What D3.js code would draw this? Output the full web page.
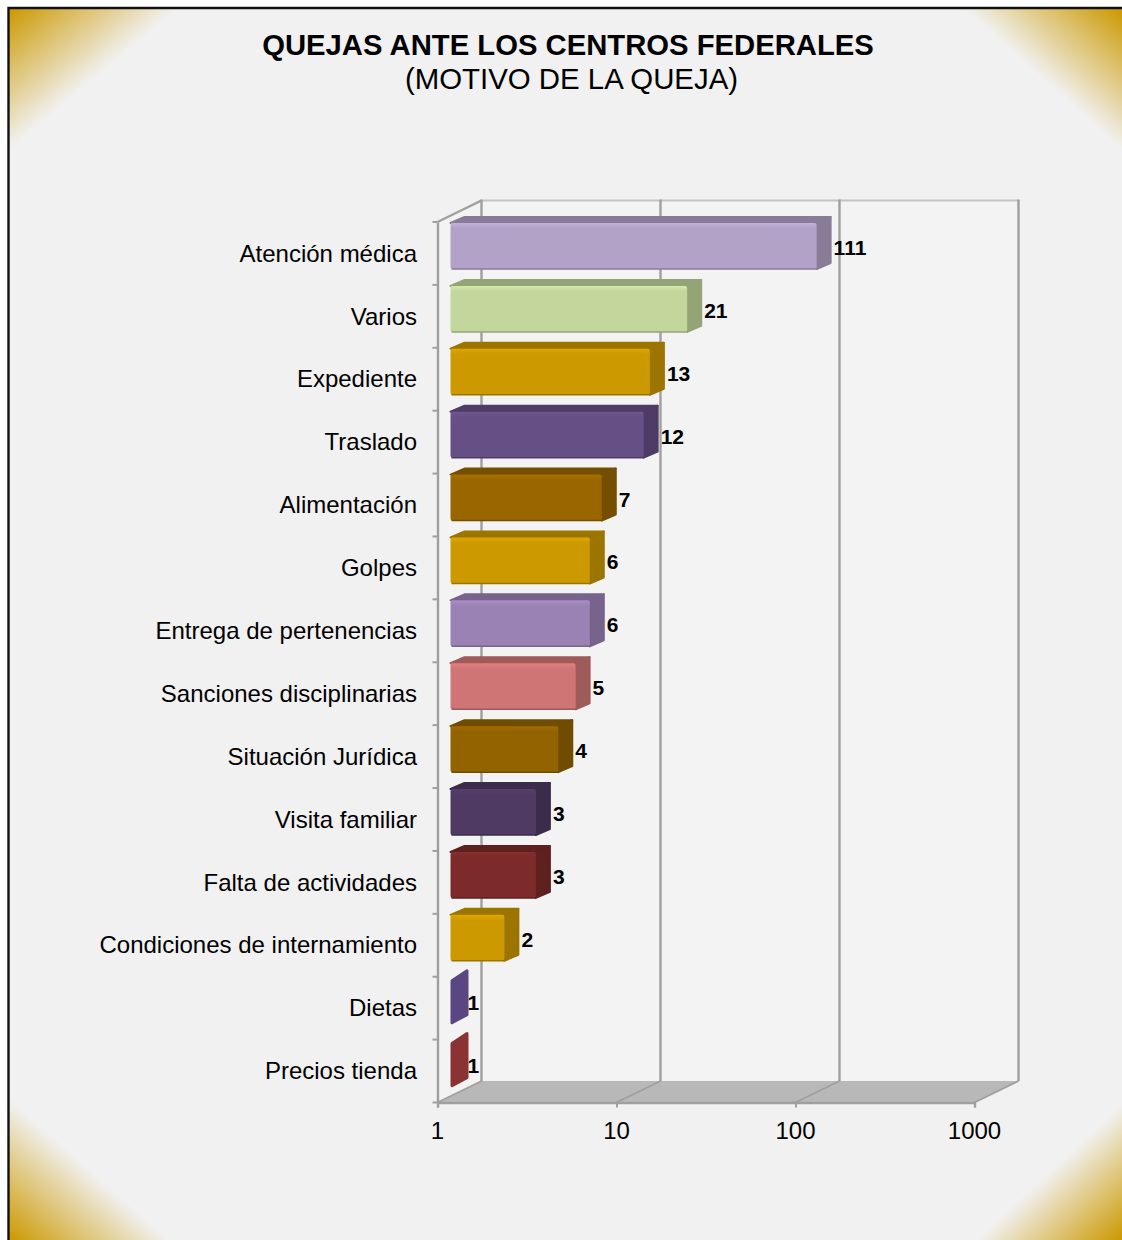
<!DOCTYPE html>
<html>
<head>
<meta charset="utf-8">
<script src="https://cdn.jsdelivr.net/npm/d3@7"></script>
<style>
    html, body { margin: 0; padding: 0; background: #fff; }
    svg { display: block; }
    text { font-family: "Liberation Sans", Arial, sans-serif; fill: #000; }
</style>
</head>
<body>
<div id="chart"></div>
<script>
var categories = ['Atención médica', 'Varios', 'Expediente', 'Traslado', 'Alimentación', 'Golpes',
    'Entrega de pertenencias', 'Sanciones disciplinarias', 'Situación Jurídica', 'Visita familiar',
    'Falta de actividades', 'Condiciones de internamiento', 'Dietas', 'Precios tienda'];
var quejas = [111, 21, 13, 12, 7, 6, 6, 5, 4, 3, 3, 2, 1, 1];
var axisTicks = [1, 10, 100, 1000];

var barColors = ['#b3a2c7', '#c3d69b', '#cc9900', '#664f85', '#996600', '#cc9900', '#9b82b5',
    '#d07575', '#936300', '#4f3a63', '#7c2a2a', '#cc9900', '#5a4680', '#8b3232'];
var gold = '#cc9900', paper = '#f1f1f1', axisGray = '#9f9f9f';

var W = 1122, H = 1240,
    wall = { dx: 44, dy: -21.5 },      // depth of the chart box
    barOffset = { dx: 13, dy: 1 },     // front of the bar inside the box
    barDepth = { dx: 14, dy: -6 },     // plus the round stroke of the polygons
    barHeight = 46;

var x = d3.scaleLog().base(10).domain([1, 1000]).range([437.5, 974.5]),
    y = d3.scaleBand().domain(categories).range([222, 1102.5]);

var svg = d3.select('#chart').append('svg').attr('width', W).attr('height', H),
    defs = svg.append('defs');

function pts(list) { return list.map(function(p) { return p.join(','); }).join(' '); }

// background and gold corners
//
svg.append('rect').attr('x', 9).attr('y', 9).attr('width', W - 9).attr('height', H - 9).attr('fill', paper);

[
    { id: 'c-tl', c: [9, 9], a: [178, 9], b: [9, 150] },
    { id: 'c-tr', c: [W, 9], a: [964, 9], b: [W, 150] },
    { id: 'c-bl', c: [9, H], a: [9, 1098], b: [170, H] },
    { id: 'c-br', c: [W, H], a: [W, 1104], b: [976, H] }
].forEach(function(k) {
    var ex = k.b[0] - k.a[0], ey = k.b[1] - k.a[1],
        t = ((k.c[0] - k.a[0]) * ex + (k.c[1] - k.a[1]) * ey) / (ex * ex + ey * ey),
        fx = k.a[0] + t * ex, fy = k.a[1] + t * ey;
    var g = defs.append('linearGradient').attr('id', k.id).attr('gradientUnits', 'userSpaceOnUse')
        .attr('x1', k.c[0]).attr('y1', k.c[1]).attr('x2', fx).attr('y2', fy);
    g.append('stop').attr('offset', 0).attr('stop-color', gold);
    g.append('stop').attr('offset', 1).attr('stop-color', paper);
    svg.append('polygon').attr('points', pts([k.c, k.a, k.b])).attr('fill', 'url(#' + k.id + ')');
});

svg.append('path').attr('d', 'M8.5,' + H + ' L8.5,8 L' + W + ',8')
    .attr('fill', 'none').attr('stroke', '#111').attr('stroke-width', 2.4);

// title
//
svg.append('text').attr('x', 568).attr('y', 55).attr('text-anchor', 'middle')
    .attr('font-size', 29.25).attr('font-weight', 'bold').text('QUEJAS ANTE LOS CENTROS FEDERALES');
svg.append('text').attr('x', 571.5).attr('y', 89).attr('text-anchor', 'middle')
    .attr('font-size', 29.4).text('(MOTIVO DE LA QUEJA)');

// box: walls and floor
//
var y0 = y.range()[0], y1 = y.range()[1],
    x0 = x.range()[0], x1 = x.range()[1];

svg.append('polygon')
    .attr('points', pts([[x0, y0], [x0 + wall.dx, y0 + wall.dy], [x1 + wall.dx, y0 + wall.dy],
        [x1 + wall.dx, y1 + wall.dy], [x0, y1]]))
    .attr('fill', '#f3f3f3');
svg.append('polygon')
    .attr('points', pts([[x0, y1], [x0 + wall.dx, y1 + wall.dy], [x1 + wall.dx, y1 + wall.dy], [x1, y1]]))
    .attr('fill', '#b8b8b8');

svg.append('line').attr('x1', x0 + wall.dx).attr('x2', x1 + wall.dx)
    .attr('y1', y0 + wall.dy).attr('y2', y0 + wall.dy)
    .attr('stroke', '#c4c4c4').attr('stroke-width', 2);

axisTicks.forEach(function(t) {
    var px = x(t);
    svg.append('line').attr('x1', px + wall.dx).attr('x2', px + wall.dx)
        .attr('y1', y0 + wall.dy - 1).attr('y2', y1 + wall.dy)
        .attr('stroke', axisGray).attr('stroke-width', 2.4);
    svg.append('line').attr('x1', px).attr('x2', px + wall.dx)
        .attr('y1', y1).attr('y2', y1 + wall.dy)
        .attr('stroke', axisGray).attr('stroke-width', 1.8);
});
svg.append('line').attr('x1', x0).attr('x2', x0 + wall.dx)
    .attr('y1', y0).attr('y2', y0 + wall.dy)
    .attr('stroke', axisGray).attr('stroke-width', 2.4);

// axes
//
var xAxis = svg.append('g').attr('transform', 'translate(0,' + y1 + ')')
    .call(d3.axisBottom(x).tickValues(axisTicks).tickSize(5).tickPadding(14).tickFormat(d3.format('d')));
xAxis.selectAll('text').attr('font-size', 24).attr('font-family', '"Liberation Sans", Arial, sans-serif')
    .attr('dx', -0.5);

var yAxis = svg.append('g').attr('transform', 'translate(' + x0 + ',0)')
    .call(d3.axisLeft(y).tickSize(0).tickPadding(20));
yAxis.selectAll('text').attr('font-size', 24).attr('font-family', '"Liberation Sans", Arial, sans-serif')
    .attr('dx', -0.5)
    .attr('transform', 'translate(0,0.5)');

// category separators
yAxis.selectAll('.sep').data(categories.concat(['end'])).enter().append('line')
    .attr('class', 'sep').attr('x1', -5).attr('x2', 0)
    .attr('y1', function(d, i) { return y0 + i * y.step(); })
    .attr('y2', function(d, i) { return y0 + i * y.step(); });

[xAxis, yAxis].forEach(function(a) {
    a.selectAll('path.domain').attr('stroke', axisGray).attr('stroke-width', 2.4);
    a.selectAll('line').attr('stroke', axisGray).attr('stroke-width', 2);
});

// bars
//
function barGradient(id, top, bottom) {
    var g = defs.append('linearGradient').attr('id', id).attr('x1', 0).attr('y1', 0).attr('x2', 0).attr('y2', 1);
    g.append('stop').attr('offset', 0).attr('stop-color', top);
    g.append('stop').attr('offset', 0.12).attr('stop-color', bottom);
    g.append('stop').attr('offset', 1).attr('stop-color', bottom);
}

var bars = svg.selectAll('.bar').data(quejas).enter().append('g').attr('class', 'bar');

bars.each(function(d, i) {
    var g = d3.select(this),
        c = d3.color(barColors[i]),
        dark = c.darker(0.75).formatHex(),
        left = x(1) + barOffset.dx,
        right = x(d) + barOffset.dx,
        top = y(categories[i]) + barOffset.dy,
        bottom = top + barHeight,
        w = right - left;

    barGradient('bar-' + i, c.brighter(0.25).formatHex(), c.formatHex());

    if (w < 1) {
        // value 1 has no length on a log axis, only the side of the bar is left
        g.append('polygon')
            .attr('points', pts([[left + 1.5, top + 3], [left + barDepth.dx + 2.5, top + barDepth.dy - 1],
                [left + barDepth.dx + 2.5, bottom + barDepth.dy - 3], [left + 1.5, bottom - 1]]))
            .attr('fill', c.formatHex()).attr('stroke', c.formatHex())
            .attr('stroke-width', 3).attr('stroke-linejoin', 'round');
    } else {
        g.append('polygon')
            .attr('points', pts([[left, top], [left + barDepth.dx, top + barDepth.dy],
                [right + barDepth.dx, top + barDepth.dy], [right, top]]))
            .attr('fill', dark).attr('stroke', dark).attr('stroke-width', 2).attr('stroke-linejoin', 'round');
        g.append('polygon')
            .attr('points', pts([[right, top], [right + barDepth.dx, top + barDepth.dy],
                [right + barDepth.dx, bottom + barDepth.dy], [right, bottom]]))
            .attr('fill', dark).attr('stroke', dark).attr('stroke-width', 2).attr('stroke-linejoin', 'round');
        g.append('rect').attr('x', left).attr('y', top).attr('width', w).attr('height', barHeight)
            .attr('rx', 2).attr('fill', 'url(#bar-' + i + ')');
        g.append('line').attr('x1', left + 1).attr('x2', right).attr('y1', bottom).attr('y2', bottom)
            .attr('stroke', dark).attr('stroke-width', 1.5);
    }

    g.append('text')
        .attr('x', right + barDepth.dx + 3)
        .attr('y', top + 32)
        .attr('font-size', 21).attr('font-weight', 'bold')
        .text(d);
});
</script>
</body>
</html>
